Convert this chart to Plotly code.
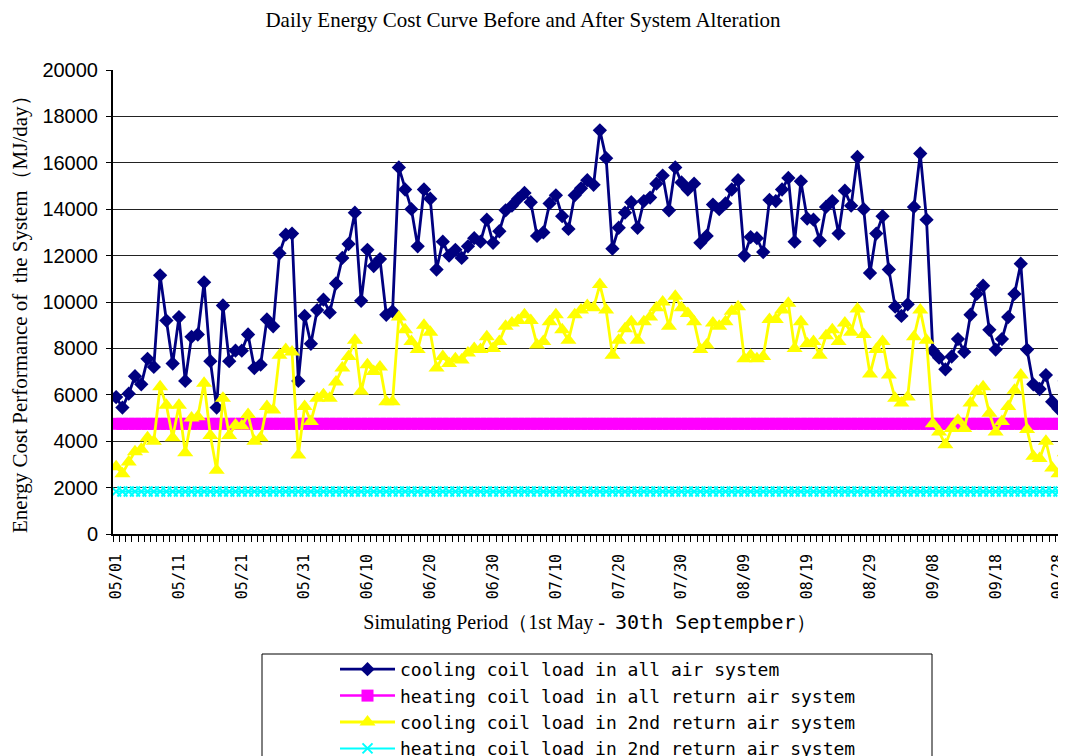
import plotly.graph_objects as go
import pandas as pd

# ---- data -------------------------------------------------------------
dates = pd.date_range("2021-05-01", "2021-09-30", freq="D").strftime("%m/%d").tolist()
tick_labels = ["05/01", "05/11", "05/21", "05/31", "06/10", "06/20", "06/30", "07/10",
               "07/20", "07/30", "08/09", "08/19", "08/29", "09/08", "09/18", "09/28"]

cooling_all_air = [
    5900, 5450, 6050, 6800, 6450, 7550, 7200, 11150, 9200, 7350,
    9350, 6600, 8500, 8600, 10850, 7450, 5450, 9850, 7450, 7900,
    7900, 8600, 7150, 7300, 9250, 8950, 12100, 12900, 12950, 6600,
    9400, 8200, 9650, 10100, 9550, 10800, 11900, 12500, 13850, 10050,
    12250, 11550, 11850, 9450, 9600, 15800, 14850, 14000, 12400, 14850,
    14450, 11400, 12600, 12000, 12250, 11900, 12400, 12750, 12600, 13550,
    12550, 13050, 13950, 14150, 14450, 14700, 14300, 12850, 13000, 14250,
    14600, 13700, 13150, 14600, 14900, 15250, 15050, 17400, 16200, 12300,
    13200, 13850, 14300, 13200, 14350, 14500, 15100, 15450, 13950, 15800,
    15150, 14850, 15100, 12550, 12850, 14200, 14000, 14250, 14850, 15250,
    12000, 12800, 12750, 12150, 14400, 14350, 14850, 15350, 12600, 15200,
    13600, 13550, 12650, 14100, 14350, 12950, 14800, 14150, 16250, 14000,
    11250, 12950, 13700, 11400, 9800, 9400, 9900, 14100, 16400, 13550,
    7900, 7600, 7100, 7650, 8400, 7850, 9450, 10350, 10700, 8800,
    7950, 8400, 9350, 10350, 11650, 7950, 6450, 6250, 6850, 5700,
    5400, 6600, 9000,
]

heating_all_return = [
    4750, 4750, 4750, 4750, 4750, 4750, 4750, 4750, 4750, 4750,
    4750, 4750, 4750, 4750, 4750, 4750, 4750, 4750, 4750, 4750,
    4750, 4750, 4750, 4750, 4750, 4750, 4750, 4750, 4750, 4750,
    4750, 4750, 4750, 4750, 4750, 4750, 4750, 4750, 4750, 4750,
    4750, 4750, 4750, 4750, 4750, 4750, 4750, 4750, 4750, 4750,
    4750, 4750, 4750, 4750, 4750, 4750, 4750, 4750, 4750, 4750,
    4750, 4750, 4750, 4750, 4750, 4750, 4750, 4750, 4750, 4750,
    4750, 4750, 4750, 4750, 4750, 4750, 4750, 4750, 4750, 4750,
    4750, 4750, 4750, 4750, 4750, 4750, 4750, 4750, 4750, 4750,
    4750, 4750, 4750, 4750, 4750, 4750, 4750, 4750, 4750, 4750,
    4750, 4750, 4750, 4750, 4750, 4750, 4750, 4750, 4750, 4750,
    4750, 4750, 4750, 4750, 4750, 4750, 4750, 4750, 4750, 4750,
    4750, 4750, 4750, 4750, 4750, 4750, 4750, 4750, 4750, 4750,
    4750, 4750, 4750, 4750, 4750, 4750, 4750, 4750, 4750, 4750,
    4750, 4750, 4750, 4750, 4750, 4750, 4750, 4750, 4750, 4750,
    4750, 4750, 4750,
]

cooling_2nd_return = [
    2900, 2600, 3100, 3550, 3650, 4150, 4000, 6350, 5550, 4150,
    5550, 3500, 5000, 5050, 6500, 4250, 2750, 5850, 4250, 4700,
    4650, 5150, 4000, 4150, 5500, 5350, 7700, 7950, 7850, 3400,
    5500, 4850, 5850, 6000, 5850, 6550, 7150, 7650, 8350, 6150,
    7300, 7000, 7200, 5700, 5700, 9350, 8800, 8300, 7950, 9000,
    8700, 7150, 7650, 7350, 7550, 7500, 7800, 8000, 7950, 8500,
    8000, 8300, 8950, 9100, 9200, 9450, 9200, 8150, 8300, 9150,
    9450, 8800, 8350, 9450, 9650, 9850, 9750, 10750, 9650, 7700,
    8350, 8850, 9150, 8350, 9150, 9350, 9750, 10000, 8950, 10250,
    9750, 9500, 9150, 7950, 8150, 9100, 8950, 9150, 9600, 9800,
    7550, 7700, 7550, 7650, 9250, 9250, 9650, 9950, 8000, 9150,
    8200, 8300, 7700, 8550, 8800, 8300, 9100, 8700, 9700, 8600,
    6900, 7950, 8300, 6850, 5850, 5650, 5900, 8500, 9650, 8350,
    4750, 4400, 3850, 4550, 4900, 4550, 5650, 6150, 6350, 5200,
    4400, 4850, 5500, 6200, 6850, 4500, 3350, 3250, 4000, 2850,
    2600, 3500, 4800,
]

heating_2nd_return = [
    1830, 1830, 1830, 1830, 1830, 1830, 1830, 1830, 1830, 1830,
    1830, 1830, 1830, 1830, 1830, 1830, 1830, 1830, 1830, 1830,
    1830, 1830, 1830, 1830, 1830, 1830, 1830, 1830, 1830, 1830,
    1830, 1830, 1830, 1830, 1830, 1830, 1830, 1830, 1830, 1830,
    1830, 1830, 1830, 1830, 1830, 1830, 1830, 1830, 1830, 1830,
    1830, 1830, 1830, 1830, 1830, 1830, 1830, 1830, 1830, 1830,
    1830, 1830, 1830, 1830, 1830, 1830, 1830, 1830, 1830, 1830,
    1830, 1830, 1830, 1830, 1830, 1830, 1830, 1830, 1830, 1830,
    1830, 1830, 1830, 1830, 1830, 1830, 1830, 1830, 1830, 1830,
    1830, 1830, 1830, 1830, 1830, 1830, 1830, 1830, 1830, 1830,
    1830, 1830, 1830, 1830, 1830, 1830, 1830, 1830, 1830, 1830,
    1830, 1830, 1830, 1830, 1830, 1830, 1830, 1830, 1830, 1830,
    1830, 1830, 1830, 1830, 1830, 1830, 1830, 1830, 1830, 1830,
    1830, 1830, 1830, 1830, 1830, 1830, 1830, 1830, 1830, 1830,
    1830, 1830, 1830, 1830, 1830, 1830, 1830, 1830, 1830, 1830,
    1830, 1830, 1830,
]

series_names = [
    "cooling coil load in all air system",
    "heating coil load in all return air system",
    "cooling coil load in 2nd return air system",
    "heating coil load in 2nd return air system",
]
y_title = "Energy Cost Performance of  the System（MJ/day）"
x_title = ("Simulating Period（1st May -  "
           "<span style='font-family:DejaVu Sans Mono'>30th Septempber）</span>")
chart_title = "Daily Energy Cost Curve Before and After System Alteration"

# ---- figure ------------------------------------------------------------
x = list(range(len(dates)))
tick_pos = [dates.index(t) for t in tick_labels]

MONO = "DejaVu Sans Mono, monospace"
SERIF = "Liberation Serif, Times New Roman, serif"

# the page body adds an 8px offset, so the figure is sized/placed to compensate
W, H = 1058, 748
PL, PT, PB = 105, 62, 222          # plot area margins (figure pixels)
PH = H - PT - PB                   # plot height

fig = go.Figure()
fig.add_trace(go.Scatter(
    x=x, y=cooling_all_air, name=series_names[0], mode="lines+markers",
    line=dict(color="#000080", width=2.8),
    marker=dict(symbol="diamond", size=11, color="#000080")))
fig.add_trace(go.Scatter(
    x=x, y=heating_all_return, name=series_names[1], mode="lines+markers",
    line=dict(color="#FF00FF", width=2.5),
    marker=dict(symbol="square", size=12, color="#FF00FF")))
fig.add_trace(go.Scatter(
    x=x, y=cooling_2nd_return, name=series_names[2], mode="lines+markers",
    line=dict(color="#FFFF00", width=2.8),
    marker=dict(symbol="triangle-up", size=14, color="#FFFF00")))
fig.add_trace(go.Scatter(
    x=x, y=heating_2nd_return, name=series_names[3], mode="lines+markers",
    line=dict(color="#00FFFF", width=2),
    marker=dict(symbol="x-thin", size=10, color="#00FFFF",
                line=dict(color="#00FFFF", width=2))))
# helper trace so the label axis is instantiated
fig.add_trace(go.Scatter(x=[tick_pos[0]], y=[None], xaxis="x2", mode="markers",
                         showlegend=False, hoverinfo="skip"))

x_range = [-0.5, 151.2]

fig.update_layout(
    width=W, height=H,
    margin=dict(l=PL, r=0, t=PT, b=PB, autoexpand=False),
    paper_bgcolor="white", plot_bgcolor="white",
    showlegend=True,
    title=dict(text=chart_title,
               x=515 / W, xref="container", xanchor="center",
               y=1 - 12 / H, yref="container", yanchor="middle",
               font=dict(family=SERIF, size=21, color="black")),
    xaxis=dict(range=x_range, tickmode="linear", tick0=-0.5, dtick=1,
               ticks="outside", ticklen=6, tickwidth=1, tickcolor="black",
               showticklabels=False, showline=True, linecolor="black", linewidth=2,
               showgrid=False, zeroline=False, automargin=False),
    xaxis2=dict(overlaying="x", anchor="y", side="bottom", range=x_range,
                tickmode="array", tickvals=tick_pos, ticktext=tick_labels,
                tickangle=-90, ticks="", ticklabelstandoff=16,
                ticklabeloverflow="allow",
                tickfont=dict(family=MONO, size=15, color="black"),
                showgrid=False, showline=False, zeroline=False, automargin=True,
                title=dict(text=x_title,
                           font=dict(family=SERIF, size=20, color="black"),
                           standoff=16)),
    yaxis=dict(range=[0, 20000], tickmode="linear", tick0=0, dtick=2000,
               tickformat="d", ticks="outside", ticklen=5, tickcolor="black",
               ticklabelstandoff=4,
               showline=True, linecolor="black", linewidth=2,
               showgrid=True, gridcolor="#222222", gridwidth=1, zeroline=False,
               automargin=False,
               tickfont=dict(family="Liberation Sans, Arial, sans-serif", size=20, color="black")),
    legend=dict(xref="container", yref="container",
                x=327 / W, xanchor="left", y=1 - 643 / H, yanchor="top",
                bgcolor="rgba(0,0,0,0)", borderwidth=0, itemwidth=55,
                font=dict(family=MONO, size=18, color="black")),
    annotations=[dict(text=y_title, textangle=-90, showarrow=False,
                      xref="paper", yref="paper",
                      x=(12 - PL) / 953, y=(H - PB - 301) / PH,
                      xanchor="center", yanchor="middle",
                      font=dict(family=SERIF, size=21, color="black"))],
    shapes=[dict(type="rect", xref="paper", yref="paper",
                 x0=(262 - 113) / 953, x1=(932 - 113) / 953,
                 y0=(534 - 654) / 464, y1=(534 - 790) / 464,
                 line=dict(color="black", width=1), fillcolor="rgba(0,0,0,0)")],
)

fig.write_html("out.html")
